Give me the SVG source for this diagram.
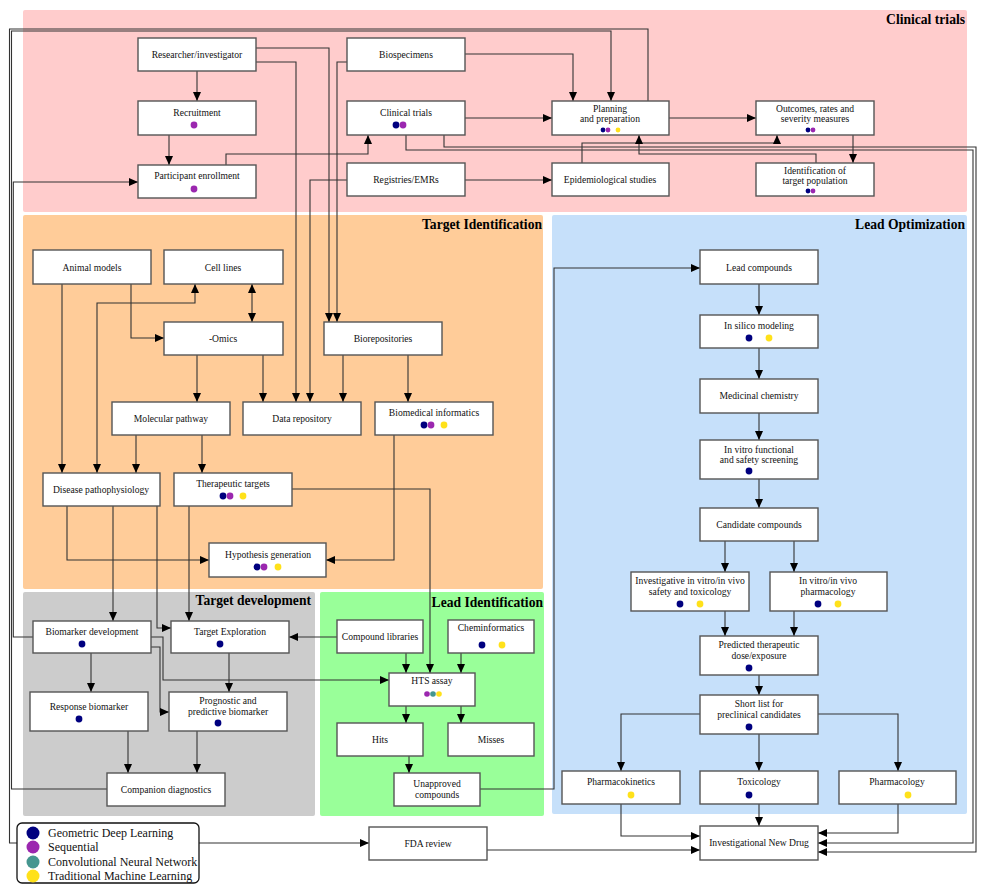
<svg xmlns="http://www.w3.org/2000/svg" width="985" height="892" viewBox="0 0 985 892">
<defs>
<marker id="arr" markerWidth="9" markerHeight="8" refX="9" refY="4" orient="auto-start-reverse" markerUnits="userSpaceOnUse"><path d="M0,0 L9,4 L0,8 z" fill="#000"/></marker>
</defs>
<style>
.panel{stroke:none}
.title{font-family:"Liberation Serif",serif;font-weight:bold;font-size:13.6px;text-anchor:end;fill:#000}
.node rect{fill:#fff;stroke:#555;stroke-width:1.4}
.node text{font-family:"Liberation Serif",serif;font-size:9.6px;text-anchor:middle;fill:#111}
.c{fill:none;stroke:#333;stroke-width:1.1;marker-end:url(#arr)}
.n{fill:none;stroke:#333;stroke-width:1.1}
.b{fill:none;stroke:#333;stroke-width:1.1;marker-start:url(#arr);marker-end:url(#arr)}
.g{fill:#00007F}.p{fill:#9B27AF}.t{fill:#45968F}.y{fill:#FFE11A}
.leg text{font-family:"Liberation Serif",serif;font-size:12px;fill:#111}
</style>
<rect width="985" height="892" fill="#fff"/>
<g id="panels">
<rect class="panel" x="23" y="10" width="944" height="202" rx="2" fill="#FFCCCC"/>
<rect class="panel" x="23" y="215" width="520" height="374" rx="2" fill="#FFCC99"/>
<rect class="panel" x="552" y="215" width="415" height="599" rx="2" fill="#C6E0FA"/>
<rect class="panel" x="23" y="592" width="292" height="224" rx="2" fill="#CCCCCC"/>
<rect class="panel" x="320" y="592" width="224" height="224" rx="2" fill="#99FF99"/>
<text class="title" x="965" y="24">Clinical trials</text>
<text class="title" x="542" y="229">Target Identification</text>
<text class="title" x="965" y="229">Lead Optimization</text>
<text class="title" x="311" y="605">Target development</text>
<text class="title" x="543" y="607">Lead Identification</text>
</g>
<g id="connectors">
<path class="c" d="M197,71 V101"/>
<path class="c" d="M169,135 V165"/>
<path class="c" d="M256,48 H329 V322"/>
<path class="c" d="M256,62 H296 V402"/>
<path class="c" d="M347,62 H337 V322"/>
<path class="c" d="M465,54 H573 V101"/>
<path class="c" d="M465,118 H552"/>
<path class="c" d="M226,165 V154 H368 V135"/>
<path class="c" d="M444,135 V147 H976 V852 H818"/>
<path class="c" d="M406,135 V150 H973 V843 H818"/>
<path class="c" d="M347,180 H310 V402"/>
<path class="c" d="M465,180 H552"/>
<path class="c" d="M582,163 V143 H777 V135"/>
<path class="c" d="M816,163 V154 H639 V135"/>
<path class="c" d="M669,118 H756"/>
<path class="c" d="M853,135 V163"/>
<path class="c" d="M648,101 V29 H9.5 V843 H369"/>
<path class="c" d="M107,789 H11.5 V31 H611 V101"/>
<path class="c" d="M33,637 H13.3 V182 H138"/>
<path class="c" d="M62,284 V473"/>
<path class="c" d="M131,284 V338 H164"/>
<path class="b" d="M195,284 V303 H97 V473"/>
<path class="b" d="M252,284 V322"/>
<path class="c" d="M197,355 V402"/>
<path class="c" d="M263,355 V402"/>
<path class="c" d="M343,355 V402"/>
<path class="c" d="M408,355 V402"/>
<path class="c" d="M136,435 V473"/>
<path class="c" d="M202,435 V473"/>
<path class="c" d="M67,506 V560 H209"/>
<path class="c" d="M394,435 V560 H326"/>
<path class="c" d="M113,506 V621"/>
<path class="c" d="M157,506 V628 H171"/>
<path class="c" d="M189,506 V621"/>
<path class="c" d="M292,489 H430 V673"/>
<path class="c" d="M91,653 V692"/>
<path class="c" d="M229,653 V692"/>
<path class="c" d="M128,731 V773"/>
<path class="c" d="M197,731 V773"/>
<path class="c" d="M151,637 H163 V680 H389"/>
<path class="c" d="M151,647 H160 V712 H169"/>
<path class="c" d="M337,637 H289"/>
<path class="c" d="M406,653 V673"/>
<path class="c" d="M461,653 V673"/>
<path class="c" d="M406,706 V723"/>
<path class="c" d="M461,706 V723"/>
<path class="c" d="M409,756 V773"/>
<path class="c" d="M480,789 H554 V268 H700"/>
<path class="c" d="M759,284 V315"/>
<path class="c" d="M759,348 V379"/>
<path class="c" d="M759,413 V440"/>
<path class="c" d="M759,479 V508"/>
<path class="c" d="M725,541 V572"/>
<path class="c" d="M794,541 V572"/>
<path class="c" d="M725,611 V636"/>
<path class="c" d="M794,611 V636"/>
<path class="c" d="M759,675 V695"/>
<path class="c" d="M700,714 H621 V771"/>
<path class="c" d="M759,734 V771"/>
<path class="c" d="M818,714 H898 V771"/>
<path class="c" d="M759,804 V826"/>
<path class="c" d="M898,804 V833 H818"/>
<path class="c" d="M621,804 V836 H700"/>
<path class="c" d="M487,850 H700"/>
</g>
<g id="n-researcher" class="node"><rect x="138" y="38" width="118" height="33"/><text x="197" y="58">Researcher/investigator</text></g>
<g id="n-recruitment" class="node"><rect x="138" y="101" width="118" height="34"/><text x="197" y="116">Recruitment</text><circle class="p" cx="194" cy="125" r="3.4"/></g>
<g id="n-enrollment" class="node"><rect x="138" y="165" width="118" height="33"/><text x="197" y="179">Participant enrollment</text><circle class="p" cx="194" cy="189" r="3.4"/></g>
<g id="n-biospecimens" class="node"><rect x="347" y="38" width="118" height="33"/><text x="406" y="58">Biospecimens</text></g>
<g id="n-clinicaltrials" class="node"><rect x="347" y="101" width="118" height="34"/><text x="406" y="116">Clinical trials</text><circle class="g" cx="396" cy="125" r="3.4"/><circle class="p" cx="403" cy="125" r="3.4"/></g>
<g id="n-registries" class="node"><rect x="347" y="163" width="118" height="33"/><text x="406" y="183">Registries/EMRs</text></g>
<g id="n-planning" class="node"><rect x="552" y="101" width="117" height="34"/><text x="610" y="112">Planning</text><text x="610" y="122">and preparation</text><circle class="g" cx="603" cy="130" r="2.4"/><circle class="p" cx="608" cy="130" r="2.4"/><circle class="y" cx="618" cy="130" r="2.4"/></g>
<g id="n-epidemiological" class="node"><rect x="552" y="163" width="117" height="33"/><text x="610" y="183">Epidemiological studies</text></g>
<g id="n-outcomes" class="node"><rect x="756" y="101" width="118" height="34"/><text x="815" y="112">Outcomes, rates and</text><text x="815" y="122">severity measures</text><circle class="g" cx="808" cy="130" r="2.4"/><circle class="p" cx="813" cy="130" r="2.4"/></g>
<g id="n-identification" class="node"><rect x="756" y="163" width="118" height="33"/><text x="815" y="174">Identification of</text><text x="815" y="184">target population</text><circle class="g" cx="808" cy="191" r="2.4"/><circle class="p" cx="813" cy="191" r="2.4"/></g>
<g id="n-animal" class="node"><rect x="33" y="250" width="118" height="34"/><text x="92" y="271">Animal models</text></g>
<g id="n-celllines" class="node"><rect x="164" y="250" width="119" height="34"/><text x="223" y="271">Cell lines</text></g>
<g id="n-omics" class="node"><rect x="164" y="322" width="119" height="33"/><text x="223" y="342">-Omics</text></g>
<g id="n-biorepositories" class="node"><rect x="324" y="322" width="118" height="33"/><text x="383" y="342">Biorepositories</text></g>
<g id="n-molecular" class="node"><rect x="112" y="402" width="118" height="33"/><text x="171" y="422">Molecular pathway</text></g>
<g id="n-datarepo" class="node"><rect x="243" y="402" width="118" height="33"/><text x="302" y="422">Data repository</text></g>
<g id="n-biomedinf" class="node"><rect x="375" y="402" width="118" height="33"/><text x="434" y="416">Biomedical informatics</text><circle class="g" cx="424" cy="425" r="3.4"/><circle class="p" cx="431" cy="425" r="3.4"/><circle class="y" cx="444" cy="425" r="3.4"/></g>
<g id="n-disease" class="node"><rect x="43" y="473" width="117" height="33"/><text x="101" y="493">Disease pathophysiology</text></g>
<g id="n-therapeutic" class="node"><rect x="174" y="473" width="118" height="33"/><text x="233" y="487">Therapeutic targets</text><circle class="g" cx="223" cy="496" r="3.4"/><circle class="p" cx="230" cy="496" r="3.4"/><circle class="y" cx="243" cy="496" r="3.4"/></g>
<g id="n-hypothesis" class="node"><rect x="209" y="543" width="117" height="34"/><text x="268" y="558">Hypothesis generation</text><circle class="g" cx="257" cy="567" r="3.4"/><circle class="p" cx="264" cy="567" r="3.4"/><circle class="y" cx="278" cy="567" r="3.4"/></g>
<g id="n-biomarkerdev" class="node"><rect x="33" y="621" width="118" height="32"/><text x="92" y="635">Biomarker development</text><circle class="g" cx="82" cy="644" r="3.4"/></g>
<g id="n-targetexpl" class="node"><rect x="171" y="621" width="118" height="32"/><text x="230" y="635">Target Exploration</text><circle class="g" cx="220" cy="644" r="3.4"/></g>
<g id="n-response" class="node"><rect x="30" y="692" width="118" height="39"/><text x="89" y="710">Response biomarker</text><circle class="g" cx="79" cy="719" r="3.4"/></g>
<g id="n-prognostic" class="node"><rect x="169" y="692" width="118" height="39"/><text x="228" y="704">Prognostic and</text><text x="228" y="715">predictive biomarker</text><circle class="g" cx="218" cy="723" r="3.4"/></g>
<g id="n-companion" class="node"><rect x="107" y="773" width="118" height="33"/><text x="166" y="793">Companion diagnostics</text></g>
<g id="n-compoundlib" class="node"><rect x="337" y="620" width="86" height="33"/><text x="380" y="640">Compound libraries</text></g>
<g id="n-cheminf" class="node"><rect x="448" y="620" width="86" height="33"/><text x="491" y="631">Cheminformatics</text><circle class="g" cx="482" cy="645" r="3.4"/><circle class="y" cx="502" cy="645" r="3.4"/></g>
<g id="n-hts" class="node"><rect x="389" y="673" width="86" height="33"/><text x="432" y="684">HTS assay</text><circle class="p" cx="427" cy="694" r="2.8"/><circle class="t" cx="433" cy="694" r="2.8"/><circle class="y" cx="439" cy="694" r="2.8"/></g>
<g id="n-hits" class="node"><rect x="337" y="723" width="86" height="33"/><text x="380" y="743">Hits</text></g>
<g id="n-misses" class="node"><rect x="448" y="723" width="86" height="33"/><text x="491" y="743">Misses</text></g>
<g id="n-unapproved" class="node"><rect x="394" y="773" width="86" height="33"/><text x="437" y="787">Unapproved</text><text x="437" y="798">compounds</text></g>
<g id="n-fda" class="node"><rect x="369" y="827" width="118" height="33"/><text x="428" y="847">FDA review</text></g>
<g id="n-lead" class="node"><rect x="700" y="250" width="118" height="34"/><text x="759" y="271">Lead compounds</text></g>
<g id="n-insilico" class="node"><rect x="700" y="315" width="118" height="33"/><text x="759" y="329">In silico modeling</text><circle class="g" cx="749" cy="338" r="3.4"/><circle class="y" cx="769" cy="338" r="3.4"/></g>
<g id="n-medchem" class="node"><rect x="700" y="379" width="118" height="34"/><text x="759" y="399">Medicinal chemistry</text></g>
<g id="n-invitro" class="node"><rect x="700" y="440" width="118" height="39"/><text x="759" y="453">In vitro functional</text><text x="759" y="463">and safety screening</text><circle class="g" cx="749" cy="471" r="3.4"/></g>
<g id="n-candidate" class="node"><rect x="700" y="508" width="118" height="33"/><text x="759" y="528">Candidate compounds</text></g>
<g id="n-investigative" class="node"><rect x="631" y="572" width="118" height="39"/><text x="690" y="584">Investigative in vitro/in vivo</text><text x="690" y="595">safety and toxicology</text><circle class="g" cx="680" cy="604" r="3.4"/><circle class="y" cx="700" cy="604" r="3.4"/></g>
<g id="n-pharmvivo" class="node"><rect x="770" y="572" width="117" height="39"/><text x="828" y="584">In vitro/in vivo</text><text x="828" y="595">pharmacology</text><circle class="g" cx="818" cy="604" r="3.4"/><circle class="y" cx="838" cy="604" r="3.4"/></g>
<g id="n-predicted" class="node"><rect x="700" y="636" width="118" height="39"/><text x="759" y="648">Predicted therapeutic</text><text x="759" y="659">dose/exposure</text><circle class="g" cx="749" cy="668" r="3.4"/></g>
<g id="n-shortlist" class="node"><rect x="700" y="695" width="118" height="39"/><text x="759" y="707">Short list for</text><text x="759" y="718">preclinical candidates</text><circle class="g" cx="749" cy="727" r="3.4"/></g>
<g id="n-pk" class="node"><rect x="562" y="771" width="118" height="33"/><text x="621" y="785">Pharmacokinetics</text><circle class="y" cx="631" cy="795" r="3.4"/></g>
<g id="n-tox" class="node"><rect x="700" y="771" width="118" height="33"/><text x="759" y="785">Toxicology</text><circle class="g" cx="749" cy="795" r="3.4"/></g>
<g id="n-pharmacology" class="node"><rect x="839" y="771" width="117" height="33"/><text x="897" y="785">Pharmacology</text><circle class="y" cx="908" cy="795" r="3.4"/></g>
<g id="n-ind" class="node"><rect x="700" y="826" width="118" height="34"/><text x="759" y="846">Investigational New Drug</text></g>
<g id="legend" class="leg">
<rect x="17" y="823" width="182" height="60" rx="5" fill="#fff" stroke="#111" stroke-width="1.3"/>
<circle class="g" cx="33" cy="833" r="6.5"/><text x="48" y="837">Geometric Deep Learning</text>
<circle class="p" cx="33" cy="847" r="6.5"/><text x="48" y="851">Sequential</text>
<circle class="t" cx="33" cy="862" r="6.5"/><text x="48" y="866">Convolutional Neural Network</text>
<circle class="y" cx="33" cy="876" r="6.5"/><text x="48" y="880">Traditional Machine Learning</text>
</g>
</svg>
